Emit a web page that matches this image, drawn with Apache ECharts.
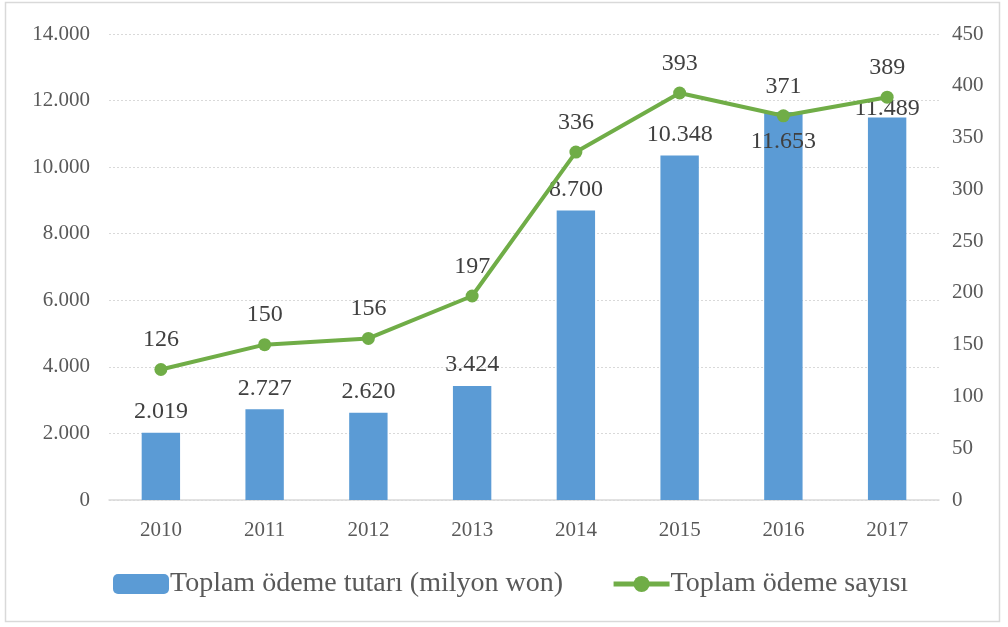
<!DOCTYPE html>
<html><head><meta charset="utf-8">
<script src="https://cdn.jsdelivr.net/npm/echarts@6/dist/echarts.min.js"></script>
<style>html,body{margin:0;padding:0;background:#fff}#c{width:1008px;height:627px}</style>
</head><body><div id="c"></div>
<script>
const categories = ['2010','2011','2012','2013','2014','2015','2016','2017'];
const amounts = [2019, 2727, 2620, 3424, 8700, 10348, 11653, 11489];
const counts = [126, 150, 156, 197, 336, 393, 371, 389];
const barName = 'Toplam ödeme tutarı (milyon won)';
const lineName = 'Toplam ödeme sayısı';
const FONT = '"Liberation Serif", "DejaVu Serif", serif';
const fmt = v => String(v).replace(/\B(?=(\d{3})+(?!\d))/g, '.');

const barData = amounts.map((v, i) => {
  if (i === 6) return {value: v, label: {position: 'insideTop', distance: 18}};
  if (i === 7) return {value: v, label: {position: 'top', offset: [0, 12]}};
  return v;
});

const chart = echarts.init(document.getElementById('c'), null, {renderer: 'canvas'});
chart.setOption({
  animation: false,
  textStyle: {fontFamily: FONT},
  graphic: [{type: 'rect', shape: {x: 5.5, y: 2.5, width: 994, height: 619}, style: {fill: 'none', stroke: '#d9d9d9', lineWidth: 1.5}, silent: true}],
  grid: {left: 109, right: 69, top: 34, bottom: 127, containLabel: false},
  legend: {
    bottom: 24, left: 108, itemGap: 48, itemWidth: 56, itemHeight: 20,
    textStyle: {fontFamily: FONT, fontSize: 28, color: '#595959', padding: [0, 0, 0, -4]},
    data: [{name: barName, icon: 'roundRect'}, {name: lineName, lineStyle: {width: 5}, itemStyle: {color: '#70AD47'}}]
  },
  xAxis: {
    type: 'category', data: categories,
    axisLine: {lineStyle: {color: '#d9d9d9', width: 1.5}},
    axisTick: {show: false},
    axisLabel: {fontFamily: FONT, fontSize: 21, color: '#595959', margin: 20}
  },
  yAxis: [{
    type: 'value', min: 0, max: 14000, interval: 2000,
    axisLine: {show: false}, axisTick: {show: false},
    axisLabel: {fontFamily: FONT, fontSize: 21, color: '#595959', margin: 19, formatter: v => fmt(v)},
    splitLine: {lineStyle: {color: '#d9d9d9', type: [2, 2], width: 1}}
  }, {
    type: 'value', min: 0, max: 450, interval: 50,
    axisLine: {show: false}, axisTick: {show: false},
    axisLabel: {fontFamily: FONT, fontSize: 21, color: '#595959', margin: 13},
    splitLine: {show: false}
  }],
  series: [{
    name: barName, type: 'bar', data: barData, barWidth: '37%',
    itemStyle: {color: '#5B9BD5'},
    label: {show: true, position: 'top', distance: 9, fontFamily: FONT, fontSize: 24, color: '#404040', formatter: p => fmt(p.value)}
  }, {
    name: lineName, type: 'line', yAxisIndex: 1, data: counts,
    symbol: 'circle', symbolSize: 13,
    lineStyle: {color: '#70AD47', width: 4},
    itemStyle: {color: '#70AD47'},
    label: {show: true, position: 'top', distance: 11, fontFamily: FONT, fontSize: 24, color: '#404040'},
    z: 5
  }]
});
</script></body></html>
